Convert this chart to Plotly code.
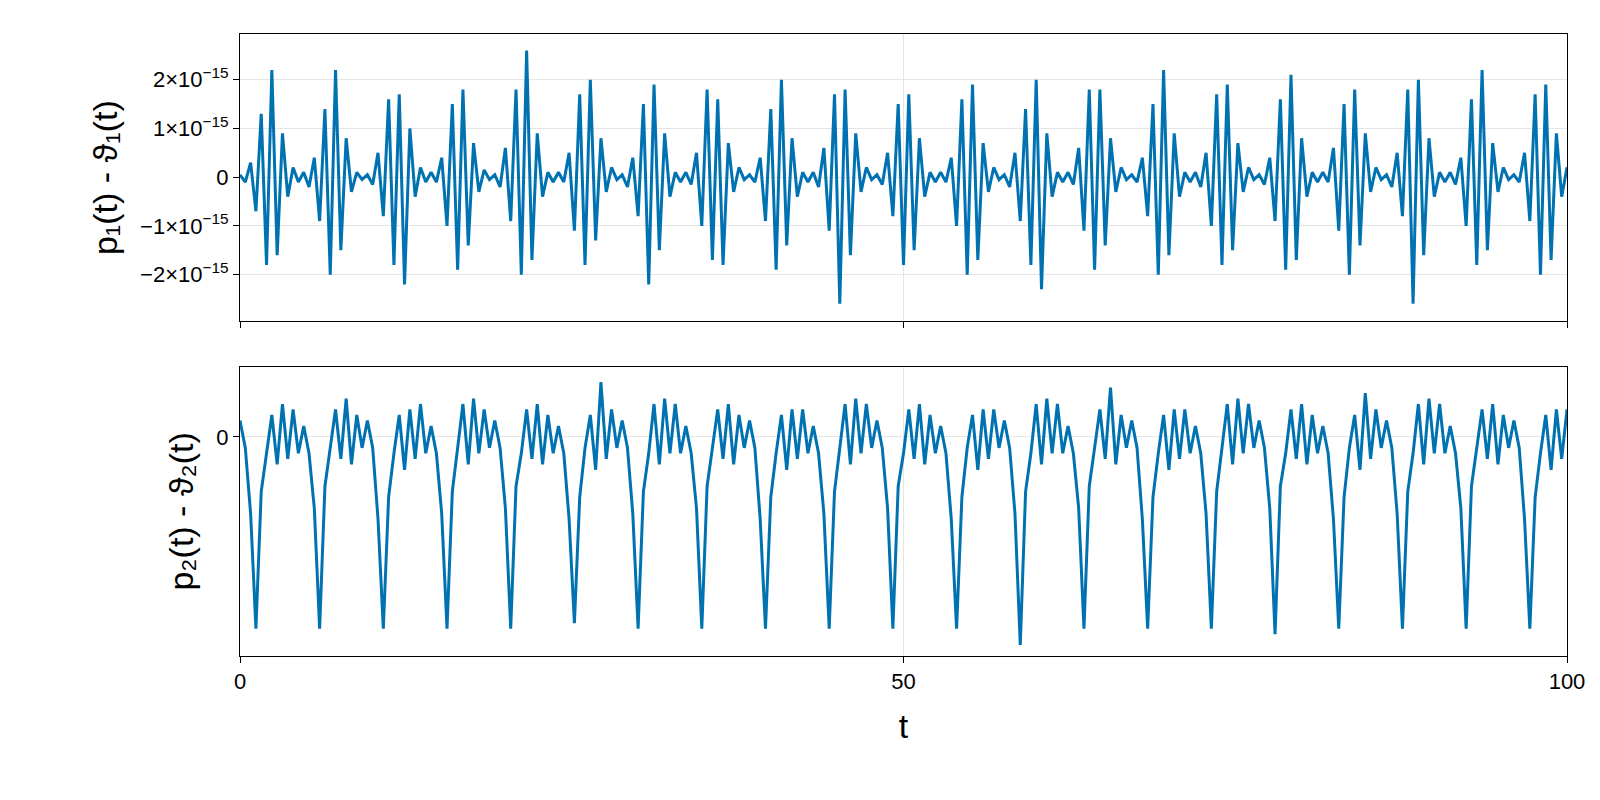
import plotly.graph_objects as go

DT = 0.4
top_rows = [
 [0.05,-0.1,0.3,-0.7,1.3,-1.8,2.2,-1.6,0.9,-0.4,0.2,-0.1],
 [0.1,-0.2,0.4,-0.9,1.4,-2.0,2.2,-1.5,0.8,-0.3,0.1,-0.05],
 [0.05,-0.15,0.5,-0.8,1.6,-1.8,1.7,-2.2,1.0,-0.4,0.2,-0.1],
 [0.1,-0.1,0.4,-1.0,1.5,-1.9,1.8,-1.4,0.7,-0.3,0.15,-0.05],
 [0.05,-0.2,0.6,-0.9,1.8,-2.0,2.6,-1.7,0.9,-0.4,0.1,-0.1],
 [0.1,-0.1,0.5,-1.1,1.7,-1.8,2.0,-1.3,0.8,-0.3,0.2,-0.05],
 [0.05,-0.2,0.4,-0.8,1.5,-2.2,1.9,-1.5,0.9,-0.4,0.1,-0.1],
 [0.1,-0.15,0.5,-1.0,1.8,-1.7,1.6,-1.8,0.7,-0.3,0.2,-0.05],
 [0.05,-0.1,0.4,-0.9,1.4,-1.9,2.0,-1.4,0.8,-0.4,0.1,-0.1],
 [0.1,-0.2,0.6,-1.1,1.7,-2.6,1.8,-1.6,0.9,-0.3,0.2,-0.05],
 [0.05,-0.15,0.5,-0.8,1.5,-1.8,1.7,-1.5,0.8,-0.4,0.1,-0.1],
 [0.1,-0.1,0.4,-1.0,1.6,-2.0,1.9,-1.7,0.7,-0.3,0.2,-0.05],
 [0.05,-0.2,0.5,-0.9,1.4,-1.8,2.0,-2.3,0.9,-0.4,0.1,-0.1],
 [0.1,-0.15,0.6,-1.1,1.8,-1.9,1.8,-1.4,0.8,-0.3,0.2,-0.05],
 [0.05,-0.1,0.4,-0.8,1.5,-2.0,2.2,-1.6,0.9,-0.4,0.1,-0.1],
 [0.1,-0.2,0.5,-1.0,1.7,-1.8,1.9,-1.5,0.7,-0.3,0.2,-0.05],
 [0.05,-0.15,0.4,-0.9,1.6,-1.9,2.1,-1.7,0.8,-0.4,0.1,-0.1],
 [0.1,-0.1,0.6,-1.1,1.5,-2.0,1.8,-1.4,0.9,-0.3,0.2,-0.05],
 [0.05,-0.2,0.5,-0.8,1.8,-2.6,2.0,-1.6,0.8,-0.4,0.1,-0.1],
 [0.1,-0.15,0.4,-1.0,1.6,-1.8,2.2,-1.5,0.7,-0.3,0.2,-0.05],
 [0.05,-0.1,0.5,-0.9,1.7,-2.0,1.9,-1.7,0.9,-0.4,0.2,-0.1],
]
bot_rows = [
 [0.3,-0.2,-1.4,-3.5,-1.0,-0.3,0.4,-0.5,0.6,-0.4,0.5,-0.3],
 [0.2,-0.3,-1.3,-3.5,-0.9,-0.2,0.5,-0.4,0.7,-0.5,0.4,-0.2],
 [0.3,-0.2,-1.5,-3.5,-1.1,-0.3,0.4,-0.6,0.5,-0.4,0.6,-0.3],
 [0.2,-0.3,-1.4,-3.5,-1.0,-0.2,0.6,-0.5,0.7,-0.3,0.5,-0.2],
 [0.3,-0.2,-1.3,-3.5,-0.9,-0.3,0.5,-0.4,0.6,-0.5,0.4,-0.3],
 [0.2,-0.3,-1.5,-3.4,-1.1,-0.2,0.4,-0.6,1.0,-0.4,0.5,-0.2],
 [0.3,-0.2,-1.4,-3.5,-1.0,-0.3,0.6,-0.5,0.7,-0.3,0.6,-0.3],
 [0.2,-0.3,-1.3,-3.5,-0.9,-0.2,0.5,-0.4,0.6,-0.5,0.4,-0.2],
 [0.3,-0.2,-1.5,-3.5,-1.1,-0.3,0.4,-0.6,0.5,-0.4,0.5,-0.3],
 [0.2,-0.3,-1.4,-3.5,-1.0,-0.2,0.6,-0.5,0.7,-0.3,0.6,-0.2],
 [0.3,-0.2,-1.3,-3.5,-0.9,-0.3,0.5,-0.4,0.6,-0.5,0.4,-0.3],
 [0.2,-0.3,-1.5,-3.5,-1.1,-0.2,0.4,-0.6,0.5,-0.4,0.5,-0.2],
 [0.3,-0.2,-1.4,-3.8,-1.0,-0.3,0.6,-0.5,0.7,-0.3,0.6,-0.3],
 [0.2,-0.3,-1.3,-3.5,-0.9,-0.2,0.5,-0.4,0.9,-0.5,0.4,-0.2],
 [0.3,-0.2,-1.5,-3.5,-1.1,-0.3,0.4,-0.6,0.5,-0.4,0.5,-0.3],
 [0.2,-0.3,-1.4,-3.5,-1.0,-0.2,0.6,-0.5,0.7,-0.3,0.6,-0.2],
 [0.3,-0.2,-1.3,-3.6,-0.9,-0.3,0.5,-0.4,0.6,-0.5,0.4,-0.3],
 [0.2,-0.3,-1.5,-3.5,-1.1,-0.2,0.4,-0.6,0.8,-0.4,0.5,-0.2],
 [0.3,-0.2,-1.4,-3.5,-1.0,-0.3,0.6,-0.5,0.7,-0.3,0.6,-0.3],
 [0.2,-0.3,-1.3,-3.5,-0.9,-0.2,0.5,-0.4,0.6,-0.5,0.4,-0.2],
 [0.3,-0.2,-1.5,-3.5,-1.1,-0.3,0.4,-0.6,0.5,-0.4,0.5,-0.3],
]
top_vals = [v * 1e-15 for r in top_rows for v in r]
bot_vals = [v for r in bot_rows for v in r]
t = [i * DT for i in range(len(top_vals))]

y1_ticks = [-2e-15, -1e-15, 0, 1e-15, 2e-15]
y1_text = ["−2×10<sup>−15</sup>", "−1×10<sup>−15</sup>", "0", "1×10<sup>−15</sup>", "2×10<sup>−15</sup>"]

blue = "#0072b2"
fig = go.Figure()
fig.add_trace(go.Scatter(x=t, y=top_vals, mode="lines", line=dict(color=blue, width=3), xaxis="x", yaxis="y"))
fig.add_trace(go.Scatter(x=t, y=bot_vals, mode="lines", line=dict(color=blue, width=3), xaxis="x2", yaxis="y2"))

ax = dict(showline=True, mirror=True, linecolor="black", linewidth=1, gridcolor="#e5e5e5",
          zeroline=False, ticks="outside", ticklen=6, tickcolor="black",
          tickfont=dict(size=22, color="black"))
fig.update_layout(
    width=1600, height=800, showlegend=False, plot_bgcolor="white", paper_bgcolor="white",
    font=dict(family="Liberation Sans, Arial, sans-serif", color="black"),
    margin=dict(l=232, r=41, t=26, b=152),
    xaxis=dict(ax, domain=[0, 1], range=[0, 100], tickvals=[0, 50, 100], showticklabels=False, anchor="y"),
    yaxis=dict(ax, domain=[0.538, 1], range=[-2.96e-15, 2.94e-15], tickvals=y1_ticks, ticktext=y1_text,
               title=dict(text="p₁(t) - ϑ₁(t)", font=dict(size=34), standoff=12)),
    xaxis2=dict(ax, domain=[0, 1], range=[0, 100], tickvals=[0, 50, 100], anchor="y2",
                title=dict(text="t", font=dict(size=34), standoff=20)),
    yaxis2=dict(ax, domain=[0, 0.465], range=[-4.0, 1.28], tickvals=[0], ticktext=["0"],
                title=dict(text="p₂(t) - ϑ₂(t)", font=dict(size=34), standoff=12)),
)
fig.write_html("out.html")
